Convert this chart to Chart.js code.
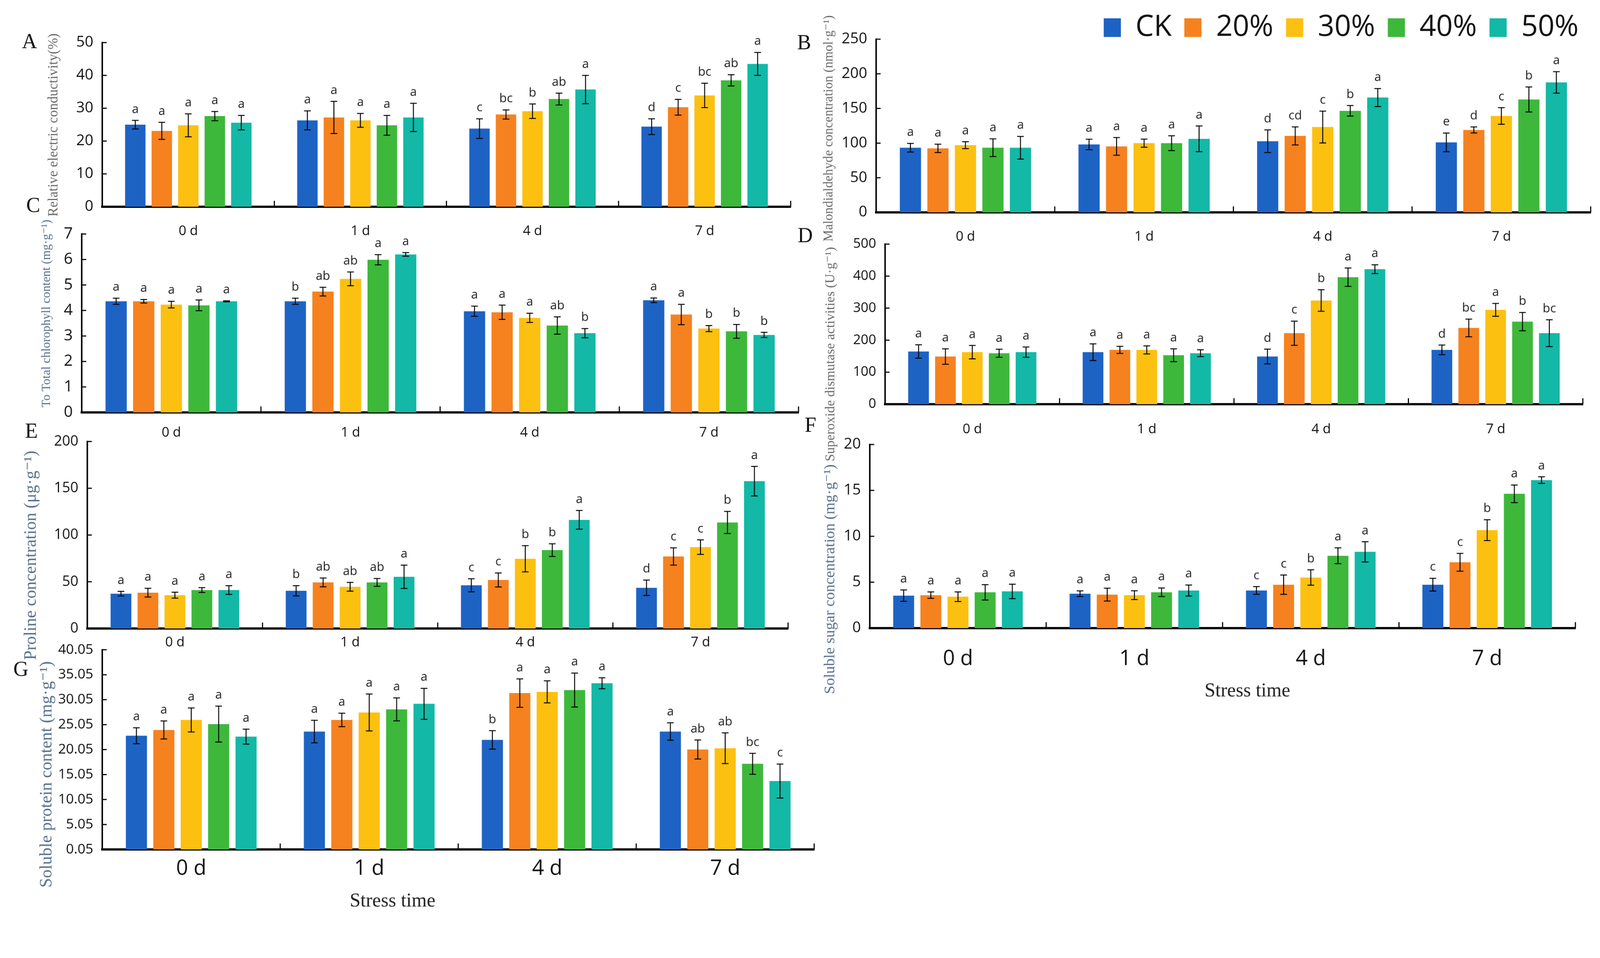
<!DOCTYPE html>
<html>
<head>
<meta charset="utf-8">
<script src="https://cdn.jsdelivr.net/npm/chart.js@4.4.0/dist/chart.umd.min.js"></script>
<style>
  html, body { margin: 0; background: #fff; overflow: hidden; }
  #stage { position: absolute; left: 0; top: 0; width: 4288px; height: 2452px; transform-origin: 0 0; background: #fff; }
  canvas { position: absolute; }
</style>
</head>
<body>
<div id="stage"></div>
<script>
'use strict';

// categories and series
var days = ['0 d', '1 d', '4 d', '7 d'];
var treatments = ['CK', '20%', '30%', '40%', '50%'];
var barColors = ['#1d63c4', '#f5821f', '#fcc010', '#3db83b', '#13b8a6'];

// A - relative electric conductivity (one row per treatment, one value per day)
var condMeans = [[25.0, 26.3, 23.8, 24.4], [23.1, 27.2, 28.1, 30.3], [24.8, 26.3, 29.1, 33.9], [27.6, 24.8, 32.8, 38.5], [25.6, 27.2, 35.7, 43.5]];
var condErrs = [[1.3, 2.9, 3.0, 2.4], [2.6, 4.9, 1.4, 2.4], [3.5, 2.1, 2.2, 3.7], [1.4, 3.0, 1.8, 1.7], [2.2, 4.3, 4.3, 3.5]];
var condLetters = [['a', 'a', 'c', 'd'], ['a', 'a', 'bc', 'c'], ['a', 'a', 'b', 'bc'], ['a', 'a', 'ab', 'ab'], ['a', 'a', 'a', 'a']];

// B - malondialdehyde
var mdaMeans = [[93.3, 98, 102.7, 101], [92.4, 95.2, 110.4, 119], [97, 99.9, 123.2, 139.1], [93.3, 99.9, 146.6, 163], [93.3, 106.2, 165.8, 187.6]];
var mdaErrs = [[6.2, 7.6, 16.4, 13.5], [6, 12.8, 13, 4.4], [5, 5.9, 23, 12], [12.8, 10.7, 7.6, 18], [16.4, 18.5, 13, 15.5]];
var mdaLetters = [['a', 'a', 'd', 'e'], ['a', 'a', 'cd', 'd'], ['a', 'a', 'c', 'c'], ['a', 'a', 'b', 'b'], ['a', 'a', 'a', 'a']];

// C - total chlorophyll
var chlMeans = [[4.36, 4.36, 3.97, 4.40], [4.36, 4.74, 3.93, 3.84], [4.23, 5.24, 3.71, 3.29], [4.20, 5.99, 3.41, 3.18], [4.36, 6.20, 3.11, 3.04]];
var chlErrs = [[0.12, 0.12, 0.2, 0.09], [0.07, 0.17, 0.28, 0.4], [0.13, 0.27, 0.18, 0.12], [0.21, 0.2, 0.34, 0.27], [0.02, 0.07, 0.18, 0.1]];
var chlLetters = [['a', 'b', 'a', 'a'], ['a', 'ab', 'a', 'a'], ['a', 'ab', 'a', 'b'], ['a', 'a', 'ab', 'b'], ['a', 'a', 'b', 'b']];

// D - superoxide dismutase
var sodMeans = [[164.6, 162.5, 148.8, 169.6], [148.8, 169.6, 221.7, 238.3], [162.5, 169.6, 323.8, 294.6], [159.2, 152.9, 396.7, 257.9], [162.5, 159.2, 421.7, 221.7]];
var sodErrs = [[21, 26, 23, 15], [24, 11, 37.7, 27.5], [21, 12.5, 33.7, 20], [12.5, 20, 28.7, 28.5], [16, 10.6, 13.7, 42]];
var sodLetters = [['a', 'a', 'd', 'd'], ['a', 'a', 'c', 'bc'], ['a', 'a', 'b', 'a'], ['a', 'a', 'a', 'b'], ['a', 'a', 'a', 'bc']];

// E - proline
var proMeans = [[37.2, 40.3, 46.2, 43.5], [38.3, 49.3, 51.9, 77], [35.6, 44.6, 74.6, 87], [41.1, 49.3, 83.8, 113.4], [41.1, 55.3, 116.2, 157.6]];
var proErrs = [[2.5, 5.5, 7, 8.3], [4.7, 4.7, 7.5, 9.2], [3.2, 4.7, 14, 7.8], [2.6, 4.2, 6.8, 11.8], [4.7, 12.5, 10, 15.8]];
var proLetters = [['a', 'b', 'c', 'd'], ['a', 'ab', 'c', 'c'], ['a', 'ab', 'b', 'c'], ['a', 'ab', 'b', 'b'], ['a', 'a', 'a', 'a']];

// F - soluble sugar
var sugarMeans = [[3.54, 3.75, 4.10, 4.73], [3.59, 3.65, 4.73, 7.17], [3.42, 3.59, 5.51, 10.67], [3.90, 3.90, 7.88, 14.63], [4.0, 4.10, 8.31, 16.12]];
var sugarErrs = [[0.62, 0.3, 0.42, 0.7], [0.35, 0.7, 1.05, 0.97], [0.52, 0.48, 0.84, 1.14], [0.84, 0.47, 0.86, 0.96], [0.79, 0.6, 1.1, 0.36]];
var sugarLetters = [['a', 'a', 'c', 'c'], ['a', 'a', 'c', 'c'], ['a', 'a', 'b', 'b'], ['a', 'a', 'a', 'a'], ['a', 'a', 'a', 'a']];

// G - soluble protein
var protMeans = [[22.83, 23.66, 22.0, 23.66], [23.98, 25.99, 31.37, 20.07], [25.99, 27.49, 31.62, 20.32], [25.16, 28.1, 31.98, 17.2], [22.65, 29.22, 33.34, 13.75]];
var protErrs = [[1.6, 2.25, 1.85, 1.75], [1.8, 1.35, 2.85, 1.9], [2.4, 3.7, 2.2, 3.07], [3.6, 2.3, 3.4, 2.1], [1.5, 3.1, 1.1, 3.4]];
var protLetters = [['a', 'a', 'b', 'a'], ['a', 'a', 'a', 'ab'], ['a', 'a', 'a', 'ab'], ['a', 'a', 'a', 'bc'], ['a', 'a', 'a', 'c']];

var sansFont = "'Open Sans', 'Noto Sans', sans-serif";
var serifFont = "'Liberation Serif', 'DejaVu Serif', serif";
var grayTitle = '#6a6a6a';
var blueTitle = '#56708c';

Chart.defaults.font.family = sansFont;

// fit the 4288x2452 stage to whatever the css viewport is
var stage = document.getElementById('stage');
var fit = Math.min(window.innerWidth / 4288, window.innerHeight / 2452);
stage.style.transform = 'scale(' + fit + ')';

var panelInfo = {};

// draws error bars, letters, inner ticks, dividers, titles
var panelDecor = {
  id: 'panelDecor',
  afterDatasetsDraw: function (chart) {
    var info = panelInfo[chart.canvas.id];
    var spec = info.spec;
    var ctx = chart.ctx;
    var yScale = chart.scales.y;
    var area = chart.chartArea;

    ctx.save();
    ctx.strokeStyle = '#000';
    ctx.fillStyle = '#222';
    ctx.font = '33px ' + sansFont;
    ctx.textAlign = 'center';
    ctx.textBaseline = 'alphabetic';
    for (var i = 0; i < chart.data.datasets.length; i++) {
      var meta = chart.getDatasetMeta(i);
      for (var j = 0; j < meta.data.length; j++) {
        var bar = meta.data[j];
        var m = info.means[i][j];
        var e = info.errs[i][j];
        var yTop = yScale.getPixelForValue(m + e);
        var yBot = yScale.getPixelForValue(m - e);
        ctx.lineWidth = 2.5;
        ctx.beginPath();
        ctx.moveTo(bar.x, yTop);
        ctx.lineTo(bar.x, yBot);
        ctx.moveTo(bar.x - 9, yTop);
        ctx.lineTo(bar.x + 9, yTop);
        ctx.moveTo(bar.x - 9, yBot);
        ctx.lineTo(bar.x + 9, yBot);
        ctx.stroke();
        ctx.fillText(info.letters[i][j], bar.x, yTop - 20);
      }
    }

    // inner y ticks
    ctx.lineWidth = 3;
    ctx.beginPath();
    yScale.ticks.forEach(function (t) {
      var y = yScale.getPixelForValue(t.value);
      ctx.moveTo(area.left, y);
      ctx.lineTo(area.left + 12, y);
    });
    // category dividers on the x axis
    var catW = (area.right - area.left) / days.length;
    for (var k = 1; k <= days.length; k++) {
      var x = area.left + k * catW;
      ctx.moveTo(x, area.bottom);
      ctx.lineTo(x, area.bottom - 16);
    }
    ctx.stroke();

    // page coordinates from here
    ctx.translate(-info.left, -info.top);
    ctx.fillStyle = '#111';
    ctx.font = '56px ' + serifFont;
    ctx.textBaseline = 'middle';
    ctx.fillText(spec.letter.text, spec.letter.x, spec.letter.y);

    if (spec.stress) {
      ctx.font = '52px ' + serifFont;
      ctx.fillStyle = '#222';
      ctx.fillText('Stress time', spec.stress.x, spec.stress.y);
    }

    ctx.save();
    ctx.translate(spec.title.x, spec.title.y);
    ctx.rotate(-Math.PI / 2);
    ctx.fillStyle = spec.title.color;
    ctx.font = spec.title.size + 'px ' + serifFont;
    ctx.fillText(spec.title.text, 0, 0);
    ctx.restore();

    ctx.restore();
  }
};

function buildPanel(id, spec, means, errs, letters) {
  var yW = 260, padTop = 130, padRight = 40, xH = 220;
  var left = spec.axisX - yW;
  var top = spec.top - padTop;
  var width = spec.right + padRight - left;
  var height = spec.zero + xH - top;
  var canvas = document.createElement('canvas');
  canvas.id = id;
  canvas.width = width;
  canvas.height = height;
  canvas.style.left = left + 'px';
  canvas.style.top = top + 'px';
  stage.appendChild(canvas);
  panelInfo[id] = { spec: spec, left: left, top: top, means: means, errs: errs, letters: letters };

  var datasets = [];
  for (var i = 0; i < treatments.length; i++) {
    datasets.push({
      label: treatments[i],
      data: means[i],
      backgroundColor: barColors[i],
      borderWidth: 0,
      categoryPercentage: 0.77,
      barPercentage: 0.77
    });
  }

  new Chart(canvas.getContext('2d'), {
    type: 'bar',
    data: { labels: days, datasets: datasets },
    options: {
      responsive: false,
      animation: false,
      devicePixelRatio: 1,
      layout: { padding: { top: padTop, right: padRight, left: 0, bottom: 0 } },
      plugins: { legend: { display: false }, tooltip: { enabled: false } },
      scales: {
        x: {
          grid: { display: false, drawTicks: false },
          border: { display: true, color: '#000', width: 6 },
          ticks: {
            color: '#111',
            maxRotation: 0,
            font: { size: spec.catFont },
            padding: spec.catY - spec.zero - spec.catFont * 0.6
          },
          afterFit: function (s) { s.height = xH; }
        },
        y: {
          min: spec.min,
          max: spec.max,
          grid: { display: false, drawTicks: false },
          border: { display: true, color: '#000', width: 4 },
          ticks: {
            stepSize: spec.step,
            color: '#111',
            padding: 24,
            font: { size: spec.tickFont },
            callback: function (v) { return spec.decimals ? v.toFixed(spec.decimals) : v; }
          },
          afterFit: function (s) { s.width = yW; }
        }
      }
    },
    plugins: [panelDecor]
  });
}

buildPanel('panelA', {
  axisX: 274, top: 114, zero: 554, right: 2119, min: 0, max: 50, step: 10,
  tickFont: 40, catFont: 36, catY: 620,
  title: { text: 'Relative electric conductivity(%)', x: 144, y: 335, size: 37, color: grayTitle },
  letter: { text: 'A', x: 79, y: 114 }
}, condMeans, condErrs, condLetters);

buildPanel('panelB', {
  axisX: 2348, top: 105, zero: 569, right: 4263, min: 0, max: 250, step: 50,
  tickFont: 40, catFont: 36, catY: 635,
  title: { text: 'Malondialdehyde concentration (nmol·g⁻¹)', x: 2222, y: 344, size: 35, color: grayTitle },
  letter: { text: 'B', x: 2155, y: 117 }
}, mdaMeans, mdaErrs, mdaLetters);

buildPanel('panelC', {
  axisX: 219, top: 627, zero: 1105, right: 2140, min: 0, max: 7, step: 1,
  tickFont: 42, catFont: 36, catY: 1160,
  title: { text: 'To Total chlorophyll content (mg·g⁻¹)', x: 125, y: 840, size: 33, color: blueTitle },
  letter: { text: 'C', x: 89, y: 553 }
}, chlMeans, chlErrs, chlLetters);

buildPanel('panelD', {
  axisX: 2372, top: 654, zero: 1083, right: 4242, min: 0, max: 500, step: 100,
  tickFont: 36, catFont: 36, catY: 1151,
  title: { text: 'Superoxide dismutase activities (U·g⁻¹)', x: 2227, y: 949, size: 36, color: grayTitle },
  letter: { text: 'D', x: 2158, y: 634 }
}, sodMeans, sodErrs, sodLetters);

buildPanel('panelE', {
  axisX: 234, top: 1183, zero: 1684, right: 2112, min: 0, max: 200, step: 50,
  tickFont: 38, catFont: 36, catY: 1722,
  title: { text: 'Proline concentration (μg·g⁻¹)', x: 84, y: 1488, size: 46, color: blueTitle },
  letter: { text: 'E', x: 84, y: 1158 }
}, proMeans, proErrs, proLetters);

buildPanel('panelF', {
  axisX: 2331, top: 1191, zero: 1683, right: 4222, min: 0, max: 20, step: 5,
  tickFont: 40, catFont: 56, catY: 1766,
  title: { text: 'Soluble sugar concentration (mg·g⁻¹)', x: 2225, y: 1552, size: 41, color: blueTitle },
  letter: { text: 'F', x: 2172, y: 1142 },
  stress: { x: 3343, y: 1852 }
}, sugarMeans, sugarErrs, sugarLetters);

buildPanel('panelG', {
  axisX: 274, top: 1741, zero: 2276, right: 2182, min: 0.05, max: 40.05, step: 5, decimals: 2,
  tickFont: 37, catFont: 56, catY: 2328,
  title: { text: 'Soluble protein content (mg·g⁻¹)', x: 126, y: 2075, size: 46, color: blueTitle },
  letter: { text: 'G', x: 56, y: 1796 },
  stress: { x: 1052, y: 2415 }
}, protMeans, protErrs, protLetters);

// shared legend, top right
var legendCanvas = document.createElement('canvas');
legendCanvas.id = 'legend';
legendCanvas.width = 1364;
legendCanvas.height = 200;
legendCanvas.style.left = '2924px';
legendCanvas.style.top = '1px';
stage.appendChild(legendCanvas);

var legendSets = [];
for (var n = 0; n < treatments.length; n++) {
  legendSets.push({ label: treatments[n], data: [], backgroundColor: barColors[n], borderWidth: 0 });
}
new Chart(legendCanvas.getContext('2d'), {
  type: 'bar',
  data: { labels: [], datasets: legendSets },
  options: {
    responsive: false,
    animation: false,
    devicePixelRatio: 1,
    scales: { x: { display: false }, y: { display: false } },
    plugins: {
      tooltip: { enabled: false },
      legend: {
        display: true,
        position: 'top',
        align: 'start',
        onClick: null,
        labels: { boxWidth: 46, boxHeight: 50, padding: 34, color: '#111', font: { size: 78 } }
      }
    }
  }
});
</script>
</body>
</html>
